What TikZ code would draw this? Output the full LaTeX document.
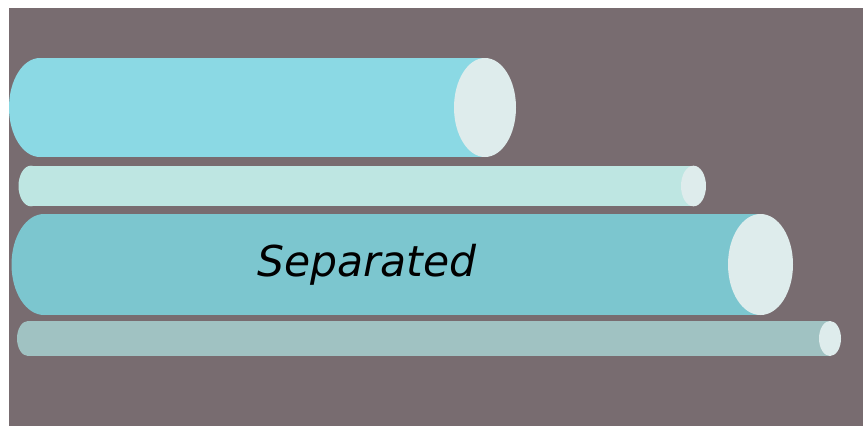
\documentclass[tikz,border=0pt]{standalone}
\usepackage{fontspec}
\setmainfont{DejaVu Sans}
\definecolor{bgc}{HTML}{786C70}
\definecolor{capc}{HTML}{DEECEC}
\definecolor{cA}{HTML}{8BD9E4}
\definecolor{cB}{HTML}{BEE6E2}
\definecolor{cC}{HTML}{7CC6CF}
\definecolor{cD}{HTML}{A0C2C2}
\tikzset{
  capfill/.style={fill=capc},
}
% #1 color, #2 left center x, #3 right center x, #4 center y, #5 rx, #6 ry
\newcommand{\mycyl}[6]{%
  \fill[#1] (#2,#4-#6) rectangle (#3,#4+#6);
  \fill[#1] (#2,#4) ellipse [x radius=#5, y radius=#6];
  \fill[capfill] (#3,#4) ellipse [x radius=#5, y radius=#6];
}
\begin{document}
\begin{tikzpicture}[x=1pt,y=-1pt]
\useasboundingbox (0,0) rectangle (863,426);
\fill[white] (0,0) rectangle (863,426);
\fill[bgc] (9,8) rectangle (863,426);
\mycyl{cA}{40}{485}{107.5}{31}{49.5}
\mycyl{cB}{31}{693.5}{186}{12.5}{20.3}
\mycyl{cC}{44}{760.5}{264.5}{32.5}{50.5}
\mycyl{cD}{28}{830}{338.5}{11}{17.5}
\node[font=\fontsize{42.5}{48}\selectfont\itshape, inner sep=0pt, anchor=base] (lbl) at (367,276) {Separated};
\end{tikzpicture}
\end{document}
